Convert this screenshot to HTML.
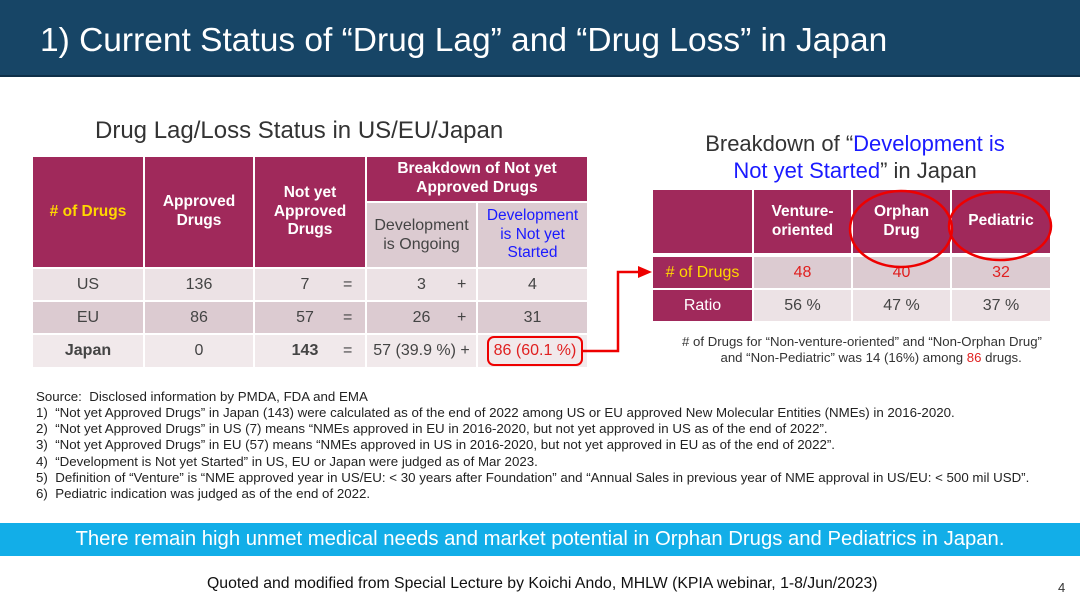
<!DOCTYPE html>
<html><head><meta charset="utf-8"><style>
body{margin:0;width:1080px;height:607px;overflow:hidden;background:#fff;font-family:"Liberation Sans",sans-serif;position:relative}
div{box-sizing:border-box}
.a{position:absolute}
.c{position:absolute;display:flex;align-items:center;justify-content:center;text-align:center;line-height:1.2}
.h{background:#a0295b;color:#fff;font-weight:bold;font-size:15.5px}
.g{color:#444;font-size:16px}
.r1{background:#ece2e5}.r2{background:#dccbd1}.r3{background:#f1e9eb}
.fn{position:absolute;left:36px;font-size:13.3px;color:#222;white-space:nowrap}
</style></head><body>
<div class="a" style="left:0;top:0;width:1080px;height:77px;background:#174566;border-bottom:2px solid #0e2f48"></div>
<div class="a" style="left:40px;top:22px;font-size:33.5px;color:#fff;white-space:nowrap">1) Current Status of “Drug Lag” and “Drug Loss” in Japan</div>

<div class="a" style="left:95px;top:117px;font-size:24px;color:#333;white-space:nowrap">Drug Lag/Loss Status in US/EU/Japan</div>

<div>
<div class="c h" style="left:33px;top:157px;width:110px;height:110px;color:#ffd700">#&nbsp;of Drugs</div>
<div class="c h" style="left:145px;top:157px;width:108px;height:110px">Approved<br>Drugs</div>
<div class="c h" style="left:255px;top:157px;width:110px;height:110px">Not yet<br>Approved<br>Drugs</div>
<div class="c h" style="left:367px;top:157px;width:220px;height:44px">Breakdown of Not yet<br>Approved Drugs</div>
<div class="c r2 g" style="left:367px;top:203px;width:109px;height:64px">Development<br>is Ongoing</div>
<div class="c r2" style="left:478px;top:203px;width:109px;height:64px;color:#1a1aff;font-size:15.5px">Development<br>is Not yet<br>Started</div>

<div class="c r1 g" style="left:33px;top:269px;width:110px;height:31px">US</div>
<div class="c r1 g" style="left:145px;top:269px;width:108px;height:31px">136</div>
<div class="c r1 g" style="left:255px;top:269px;width:110px;height:31px"><span style="margin-left:-10px">7</span><span style="position:absolute;left:88px">=</span></div>
<div class="c r1 g" style="left:367px;top:269px;width:109px;height:31px">3<span style="position:absolute;left:90px">+</span></div>
<div class="c r1 g" style="left:478px;top:269px;width:109px;height:31px">4</div>

<div class="c r2 g" style="left:33px;top:302px;width:110px;height:31px">EU</div>
<div class="c r2 g" style="left:145px;top:302px;width:108px;height:31px">86</div>
<div class="c r2 g" style="left:255px;top:302px;width:110px;height:31px"><span style="margin-left:-10px">57</span><span style="position:absolute;left:88px">=</span></div>
<div class="c r2 g" style="left:367px;top:302px;width:109px;height:31px">26<span style="position:absolute;left:90px">+</span></div>
<div class="c r2 g" style="left:478px;top:302px;width:109px;height:31px">31</div>

<div class="c r3 g" style="left:33px;top:335px;width:110px;height:32px;font-weight:bold">Japan</div>
<div class="c r3 g" style="left:145px;top:335px;width:108px;height:32px">0</div>
<div class="c r3 g" style="left:255px;top:335px;width:110px;height:32px"><span style="margin-left:-10px;font-weight:bold">143</span><span style="position:absolute;left:88px">=</span></div>
<div class="c r3 g" style="left:367px;top:335px;width:109px;height:32px">57 (39.9 %) +</div>
<div class="c r3" style="left:478px;top:335px;width:109px;height:32px"></div>
<div class="c" style="left:487px;top:336px;width:96px;height:30px;border:2px solid #e00;border-radius:7px;color:#e02020;font-size:16px">86 (60.1 %)</div>
</div>

<div class="a" style="left:655px;top:130px;width:400px;text-align:center;font-size:22px;color:#333;line-height:27px">Breakdown of “<span style="color:#1a1aff">Development is</span><br><span style="color:#1a1aff">Not yet Started</span>” in Japan</div>

<div>
<div class="c h" style="left:653px;top:190px;width:99px;height:63px"></div>
<div class="c h" style="left:754px;top:190px;width:97px;height:63px">Venture-<br>oriented</div>
<div class="c h" style="left:853px;top:190px;width:97px;height:63px">Orphan<br>Drug</div>
<div class="c h" style="left:952px;top:190px;width:98px;height:63px">Pediatric</div>
<div class="c h" style="left:653px;top:257px;width:99px;height:31px;color:#ffd700;font-weight:normal;font-size:16px">#&nbsp;of Drugs</div>
<div class="c r2" style="left:754px;top:257px;width:97px;height:31px;color:#e02020;font-size:16px">48</div>
<div class="c r2" style="left:853px;top:257px;width:97px;height:31px;color:#e02020;font-size:16px">40</div>
<div class="c r2" style="left:952px;top:257px;width:98px;height:31px;color:#e02020;font-size:16px">32</div>
<div class="c h" style="left:653px;top:290px;width:99px;height:31px;font-weight:normal;font-size:16px">Ratio</div>
<div class="c r1 g" style="left:754px;top:290px;width:97px;height:31px">56 %</div>
<div class="c r1 g" style="left:853px;top:290px;width:97px;height:31px">47 %</div>
<div class="c r1 g" style="left:952px;top:290px;width:98px;height:31px">37 %</div>
</div>

<svg class="a" style="left:0;top:0" width="1080" height="607">
<polyline points="583,351 618,351 618,272 640,272" fill="none" stroke="#e00" stroke-width="2.5"/>
<polygon points="652,272 638,266 638,278" fill="#e00"/>
<ellipse cx="901" cy="229" rx="51" ry="38" fill="none" stroke="#e00" stroke-width="2.5"/>
<ellipse cx="1000" cy="226" rx="51" ry="34" fill="none" stroke="#e00" stroke-width="2.5"/>
</svg>

<div class="a" style="left:662px;top:334px;width:400px;text-align:center;font-size:13.2px;color:#333;line-height:16px"># of Drugs for “Non-venture-oriented” and “Non-Orphan Drug”<br>&nbsp;&nbsp;&nbsp;&nbsp;&nbsp;and “Non-Pediatric” was 14 (16%) among <span style="color:#e02020">86</span> drugs.</div>

<div>
<div class="fn" style="top:389px">Source:&nbsp; Disclosed information by PMDA, FDA and EMA</div>
<div class="fn" style="top:405px">1)&nbsp; “Not yet Approved Drugs” in Japan (143) were calculated as of the end of 2022 among US or EU approved New Molecular Entities (NMEs) in 2016-2020.</div>
<div class="fn" style="top:421px">2)&nbsp; “Not yet Approved Drugs” in US (7) means “NMEs approved in EU in 2016-2020, but not yet approved in US as of the end of 2022”.</div>
<div class="fn" style="top:437px">3)&nbsp; “Not yet Approved Drugs” in EU (57) means “NMEs approved in US in 2016-2020, but not yet approved in EU as of the end of 2022”.</div>
<div class="fn" style="top:454px">4)&nbsp; “Development is Not yet Started” in US, EU or Japan were judged as of Mar 2023.</div>
<div class="fn" style="top:470px">5)&nbsp; Definition of “Venture” is “NME approved year in US/EU: &lt; 30 years after Foundation” and “Annual Sales in previous year of NME approval in US/EU: &lt; 500 mil USD”.</div>
<div class="fn" style="top:486px">6)&nbsp; Pediatric indication was judged as of the end of 2022.</div>
</div>

<div class="c" style="left:0;top:523px;width:1080px;height:33px;background:#12aee8;color:#fff;font-size:20.3px">There remain high unmet medical needs and market potential in Orphan Drugs and Pediatrics in Japan.</div>
<div class="a" style="left:207px;top:575px;font-size:15.8px;color:#111;white-space:nowrap">Quoted and modified from Special Lecture by Koichi Ando, MHLW (KPIA webinar, 1-8/Jun/2023)</div>
<div class="a" style="left:1058px;top:580px;font-size:13px;color:#333">4</div>
</body></html>
